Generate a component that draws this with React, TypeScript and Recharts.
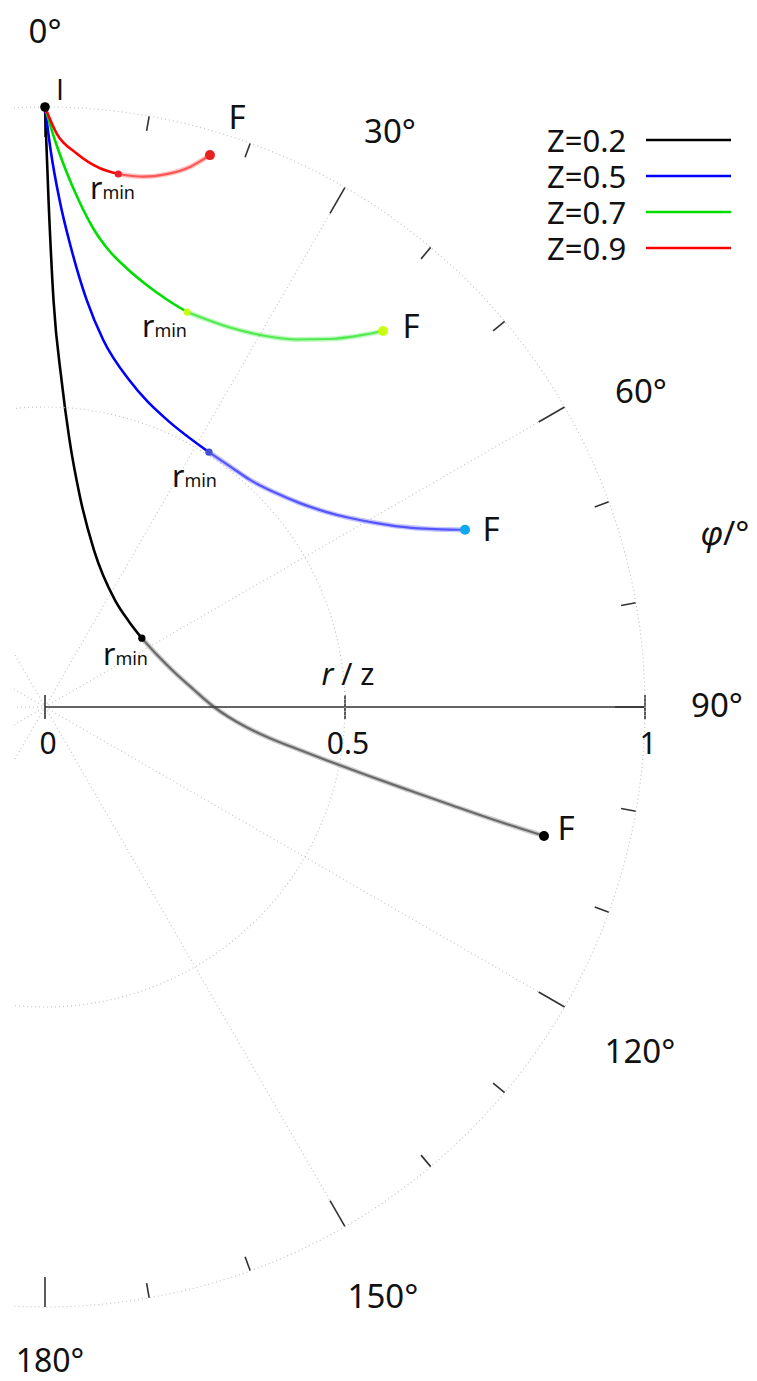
import React from 'react';
import {
  ComposedChart,
  Line,
  Scatter,
  XAxis,
  YAxis,
  ReferenceLine,
  ReferenceDot,
  Legend,
} from 'recharts';

const FONT = '"Noto Sans", "DejaVu Sans", sans-serif';
const RAD = Math.PI / 180;

// pixel frame of the polar plot
const W = 757;
const H = 1381;
const LEFT = 14;
const CX = 45;
const CY = 707;
const UNIT = 600; // px per r/z

// ---- data: polar coordinates (phi in degrees, r / z) ----
// Z = 0.2
const phiInZ02 = [0, 0.4, 1.2, 2.89, 5.24, 9.46, 17.33, 33.19, 43.98, 54.57];
const rInZ02 = [1, 0.845, 0.678, 0.546, 0.447, 0.355, 0.274, 0.213, 0.2, 0.198];
const phiOutZ02 = [54.57, 65.16, 74.85, 83.07, 90.0, 93.12, 95.68, 97.69, 99.2, 100.69, 101.95, 102.87, 103.57, 104.11, 104.49];
const rOutZ02 = [0.198, 0.206, 0.223, 0.2485, 0.2817, 0.3065, 0.3368, 0.3735, 0.4172, 0.4763, 0.5474, 0.6211, 0.6961, 0.7725, 0.859];

// Z = 0.5
const phiInZ05 = [0, 0.58, 1.65, 3.33, 5.84, 9.04, 14.61, 18.43, 23.03, 32.75];
const rInZ05 = [1, 0.928, 0.845, 0.763, 0.682, 0.619, 0.5615, 0.5376, 0.52, 0.505];
const phiOutZ05 = [32.75, 37.63, 42.08, 47.0, 51.34, 55.08, 58.22, 60.83, 63.06, 64.86, 66.34, 67.13];
const rOutZ05 = [0.505, 0.506, 0.51, 0.524, 0.544, 0.569, 0.598, 0.6299, 0.6637, 0.6996, 0.7369, 0.7598];

// Z = 0.7
const phiInZ07 = [0, 1.0, 2.21, 3.79, 5.89, 7.92, 10.83, 13.54, 16.76, 19.78];
const rInZ07 = [1, 0.9451, 0.8957, 0.8469, 0.7992, 0.769, 0.7416, 0.7235, 0.7085, 0.6996];
const phiOutZ07 = [19.78, 22.84, 25.99, 30.4, 34.44, 37.76, 40.52, 41.95];
const rOutZ07 = [0.6996, 0.6999, 0.7037, 0.7179, 0.7427, 0.7758, 0.8157, 0.8427];

// Z = 0.9
const phiInZ09 = [0, 1.17, 3.28, 5.83, 7.83];
const rInZ09 = [1, 0.956, 0.924, 0.9025, 0.8967];
const phiOutZ09 = [7.83, 10.47, 12.86, 15.02, 16.64];
const rOutZ09 = [0.8967, 0.8988, 0.911, 0.932, 0.96];

const angleTicks = [0, 10, 20, 30, 40, 50, 60, 70, 80, 90, 100, 110, 120, 130, 140, 150, 160, 170, 180];
const spokeAngles = [30, 60, 90, 120, 150];
const gridRadii = [0.5, 1];
const radialTicks = [0, 0.5, 1];
const radialTickLabels = ['0', '0.5', '1'];

const toXY = (phi: number[], r: number[]) =>
  phi.map((p, i) => ({ x: r[i] * Math.sin(p * RAD), y: r[i] * Math.cos(p * RAD) }));

const curves = [
  { z: '0.2', color: '#000000', fade: '#444444', endColor: '#000000', minColor: '#000000', inn: toXY(phiInZ02, rInZ02), out: toXY(phiOutZ02, rOutZ02) },
  { z: '0.5', color: '#0000ff', fade: '#2a2aff', endColor: '#10a8f0', minColor: '#4050d0', inn: toXY(phiInZ05, rInZ05), out: toXY(phiOutZ05, rOutZ05) },
  { z: '0.7', color: '#00dd00', fade: '#22e622', endColor: '#c6ff10', minColor: '#c6ff10', inn: toXY(phiInZ07, rInZ07), out: toXY(phiOutZ07, rOutZ07) },
  { z: '0.9', color: '#ff0000', fade: '#ff2a2a', endColor: '#e82020', minColor: '#e82030', inn: toXY(phiInZ09, rInZ09), out: toXY(phiOutZ09, rOutZ09) },
];

// annotation positions (page pixels)
const fLabels = [
  { px: 566, py: 827 },
  { px: 491, py: 528 },
  { px: 411, py: 325 },
  { px: 237, py: 116 },
];
const rminLabels = [
  { px: 103, py: 665 },
  { px: 172, py: 487 },
  { px: 142, py: 337 },
  { px: 90, py: 199 },
];
const angleLabels = [
  { t: '0°', px: 45, py: 30 },
  { t: '30°', px: 390, py: 130 },
  { t: '60°', px: 641, py: 390 },
  { t: '90°', px: 717, py: 704 },
  { t: '120°', px: 640, py: 1050 },
  { t: '150°', px: 383, py: 1295 },
  { t: '180°', px: 50, py: 1359 },
];

const dx = (px: number) => (px - CX) / UNIT;
const dy = (py: number) => (CY - py) / UNIT;

const GRID = { stroke: '#c4c4c4', strokeWidth: 1.2, strokeDasharray: '1 3' };

const dotShape = (r: number, fill: string) => (p: any) => (
  <circle cx={p.cx} cy={p.cy} r={r} fill={fill} />
);

const textShape = (
  content: React.ReactNode,
  fontSize: number,
  anchor = 'middle',
  baseline = 'central',
  family = FONT
) => (p: any) => (
  <text
    x={p.cx}
    y={p.cy}
    fontSize={fontSize}
    fontFamily={family}
    fill="#111"
    textAnchor={anchor}
    dominantBaseline={baseline}
  >
    {content}
  </text>
);

const LegendBox = () => (
  <div style={{ fontFamily: FONT, fontSize: 31, color: '#111' }}>
    {curves.map((c) => (
      <div key={c.z} style={{ display: 'flex', alignItems: 'center', height: 36 }}>
        <span style={{ width: 99, lineHeight: '36px', whiteSpace: 'nowrap' }}>Z={c.z}</span>
        <svg width={85} height={6}>
          <line x1={0} y1={3} x2={85} y2={3} stroke={c.color} strokeWidth={2.5} />
        </svg>
      </div>
    ))}
  </div>
);

export default function App() {
  return (
    <div style={{ position: 'absolute', left: 0, top: 0, width: W, height: H, background: '#fff' }}>
      <ComposedChart width={W} height={H} margin={{ top: 0, right: 0, bottom: 0, left: LEFT }}>
        <XAxis type="number" dataKey="x" hide allowDataOverflow domain={[dx(LEFT), dx(W)]} />
        <YAxis type="number" dataKey="y" hide allowDataOverflow domain={[dy(H), dy(0)]} />

        {gridRadii.map((g) => (
          <ReferenceDot
            key={`c${g}`}
            x={0}
            y={0}
            r={g * UNIT}
            fill="none"
            {...GRID}
            ifOverflow="hidden"
          />
        ))}
        {spokeAngles.map((a) => (
          <ReferenceLine
            key={`s${a}`}
            segment={[
              { x: -Math.sin(a * RAD), y: -Math.cos(a * RAD) },
              { x: Math.sin(a * RAD), y: Math.cos(a * RAD) },
            ]}
            {...GRID}
            ifOverflow="hidden"
          />
        ))}
        {angleTicks.map((a) => {
          const inner = a % 30 === 0 ? 0.95 : 0.975;
          return (
            <ReferenceLine
              key={`t${a}`}
              segment={[
                { x: inner * Math.sin(a * RAD), y: inner * Math.cos(a * RAD) },
                { x: Math.sin(a * RAD), y: Math.cos(a * RAD) },
              ]}
              stroke="#333"
              strokeWidth={1.6}
              ifOverflow="visible"
            />
          );
        })}

        {/* radial axis */}
        <ReferenceLine segment={[{ x: 0, y: 0 }, { x: 1, y: 0 }]} stroke="#333" strokeWidth={1.6} ifOverflow="visible" />
        {radialTicks.map((t) => (
          <ReferenceLine
            key={`rt${t}`}
            segment={[{ x: t, y: -0.02 }, { x: t, y: 0.02 }]}
            stroke="#333"
            strokeWidth={1.6}
            ifOverflow="visible"
          />
        ))}
        {radialTicks.map((t, i) => (
          <ReferenceDot
            key={`rl${t}`}
            x={t + 3 / UNIT}
            y={-35 / UNIT}
            r={0}
            ifOverflow="visible"
            shape={textShape(radialTickLabels[i], 30)}
          />
        ))}
        <ReferenceDot
          x={dx(348)}
          y={dy(673)}
          r={0}
          ifOverflow="visible"
          shape={textShape(
            <>
              <tspan fontStyle="italic">r</tspan> / z
            </>,
            30
          )}
        />

        {angleLabels.map((l) => (
          <ReferenceDot
            key={l.t}
            x={dx(l.px)}
            y={dy(l.py)}
            r={0}
            ifOverflow="visible"
            shape={textShape(l.t, l.t === '180°' ? 32 : 33)}
          />
        ))}
        <ReferenceDot
          x={dx(725)}
          y={dy(532)}
          r={0}
          ifOverflow="visible"
          shape={textShape(
            <>
              <tspan fontStyle="italic">φ</tspan>/°
            </>,
            33
          )}
        />

        {/* trajectories: after r_min drawn soft (halo + core) */}
        {curves.map((c) => (
          <Line
            key={`halo${c.z}`}
            data={c.out}
            dataKey="y"
            type="monotoneX"
            stroke={c.fade}
            strokeOpacity={0.28}
            strokeWidth={5}
            dot={false}
            activeDot={false}
            legendType="none"
            isAnimationActive={false}
          />
        ))}
        {curves.map((c) => (
          <Line
            key={`out${c.z}`}
            data={c.out}
            dataKey="y"
            type="monotoneX"
            stroke={c.fade}
            strokeOpacity={0.72}
            strokeWidth={2.2}
            dot={false}
            activeDot={false}
            legendType="none"
            isAnimationActive={false}
          />
        ))}
        {curves.map((c) => (
          <Line
            key={`in${c.z}`}
            data={c.inn}
            dataKey="y"
            type="monotoneX"
            stroke={c.color}
            strokeWidth={2.6}
            dot={false}
            activeDot={false}
            legendType="none"
            isAnimationActive={false}
          />
        ))}

        {curves.map((c) => (
          <Scatter
            key={`min${c.z}`}
            data={[c.out[0]]}
            shape={dotShape(3.6, c.minColor)}
            legendType="none"
            isAnimationActive={false}
          />
        ))}
        {curves.map((c) => (
          <Scatter
            key={`end${c.z}`}
            data={[c.out[c.out.length - 1]]}
            shape={dotShape(5, c.endColor)}
            legendType="none"
            isAnimationActive={false}
          />
        ))}
        <Scatter data={[curves[0].inn[0]]} shape={dotShape(4.8, '#000')} legendType="none" isAnimationActive={false} />

        {/* labels */}
        <ReferenceDot
          x={dx(60)}
          y={dy(88)}
          r={0}
          ifOverflow="visible"
          shape={textShape('I', 29, 'middle', 'central', '"Open Sans", sans-serif')}
        />
        {fLabels.map((f, i) => (
          <ReferenceDot
            key={`f${i}`}
            x={dx(f.px)}
            y={dy(f.py)}
            r={0}
            ifOverflow="visible"
            shape={textShape('F', 33)}
          />
        ))}
        {rminLabels.map((m, i) => (
          <ReferenceDot
            key={`m${i}`}
            x={dx(m.px)}
            y={dy(m.py)}
            r={0}
            ifOverflow="visible"
            shape={textShape(
              <>
                r<tspan fontSize={18}>min</tspan>
              </>,
              30,
              'start',
              'alphabetic'
            )}
          />
        ))}

        <Legend
          layout="vertical"
          align="center"
          verticalAlign="middle"
          wrapperStyle={{ top: 122, left: 547, width: 200, height: 150 }}
          content={() => <LegendBox />}
        />
      </ComposedChart>
    </div>
  );
}
